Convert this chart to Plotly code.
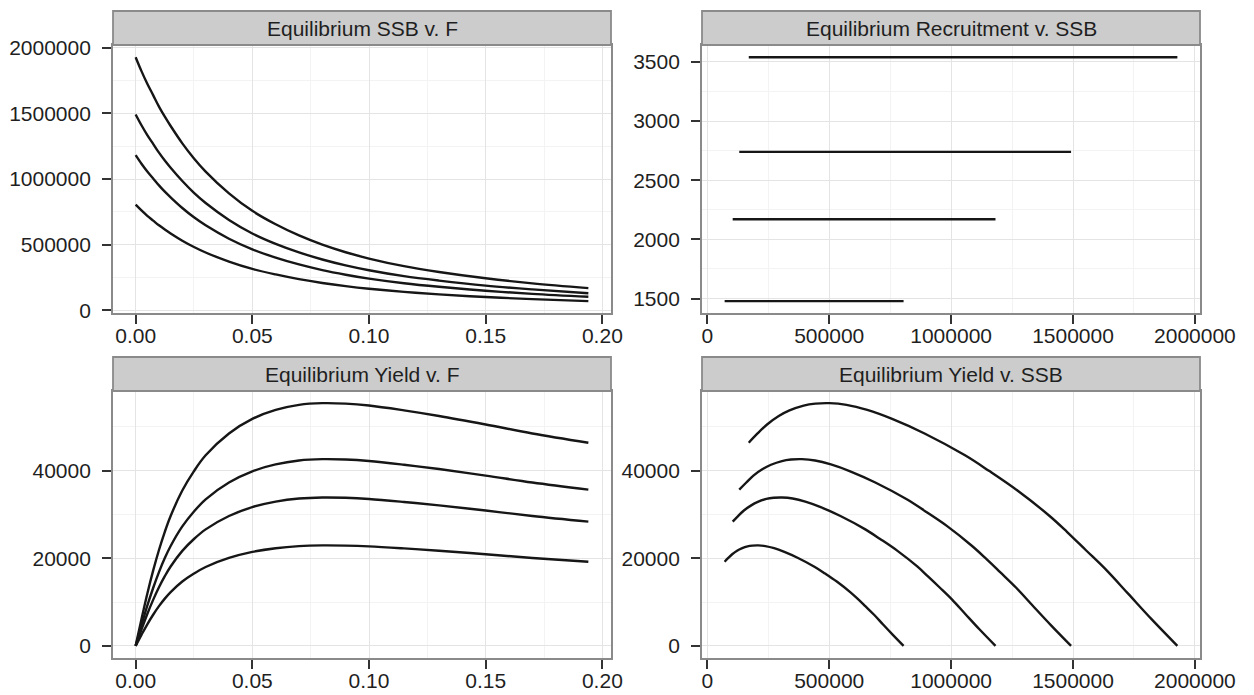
import plotly.graph_objects as go

# ---------------- data ----------------
F = [0, 0.0025, 0.005, 0.0075, 0.01, 0.0125, 0.015, 0.02, 0.025, 0.03, 0.04,
     0.05, 0.06, 0.07, 0.08, 0.09, 0.1, 0.115, 0.13, 0.15, 0.17, 0.194]

ssb_1 = [1928000, 1822000, 1726000, 1639000, 1552000, 1475000, 1404000, 1272000,
         1157000, 1057000, 891000, 758000, 656000, 571000, 501000, 443000, 395000,
         337000, 293000, 245000, 206000, 170000]
ssb_2 = [1492000, 1410000, 1335000, 1268000, 1201000, 1141000, 1086000, 985000,
         895000, 818000, 689000, 586000, 507000, 442000, 388000, 343000, 306000,
         261000, 227000, 189000, 160000, 131000]
ssb_3 = [1182000, 1117000, 1058000, 1005000, 952000, 904000, 861000, 780000,
         709000, 648000, 546000, 465000, 402000, 350000, 307000, 272000, 242000,
         207000, 180000, 150000, 126000, 104000]
ssb_4 = [805000, 761000, 720000, 684000, 648000, 616000, 586000, 531000,
         483000, 441000, 372000, 316000, 274000, 238000, 209000, 185000, 165000,
         141000, 122000, 102000, 86000, 71000]

yield_1 = [0, 6100, 11920, 17190, 21900, 26060, 29670, 35490, 39920, 43530, 48520,
           51850, 53900, 55060, 55450, 55340, 54900, 53790, 52510, 50570, 48520, 46410]
yield_2 = [0, 4690, 9170, 13220, 16850, 20050, 22820, 27300, 30710, 33480, 37320,
           39880, 41450, 42350, 42650, 42560, 42220, 41370, 40390, 38900, 37320, 35700]
yield_3 = [0, 3730, 7290, 10510, 13390, 15930, 18140, 21700, 24410, 26610, 29660,
           31700, 32950, 33660, 33900, 33830, 33560, 32880, 32100, 30920, 29660, 28370]
yield_4 = [0, 2520, 4930, 7110, 9070, 10790, 12280, 14690, 16520, 18020, 20080,
           21460, 22310, 22790, 22950, 22900, 22720, 22260, 21730, 20930, 20080, 19210]

recruitment = [3540, 2740, 2170, 1478]

ssb_all = [ssb_1, ssb_2, ssb_3, ssb_4]
yield_all = [yield_1, yield_2, yield_3, yield_4]

panel_titles = ["Equilibrium SSB v. F", "Equilibrium Recruitment v. SSB",
                "Equilibrium Yield v. F", "Equilibrium Yield v. SSB"]

f_ticks = [0, 0.05, 0.10, 0.15, 0.20]
ssb_ticks = [0, 500000, 1000000, 1500000, 2000000]
rec_ticks = [1500, 2000, 2500, 3000, 3500]
yield_ticks = [0, 20000, 40000]

# ---------------- figure ----------------
W, H = 1254, 695
LINE = dict(color="#161616", width=2.4)
FONT = dict(family="Liberation Sans, Arial, sans-serif", size=21, color="#1f1f1f")
BORDER = "#8a8a8a"
GRID = "#e4e4e4"
MINOR = "#f3f3f3"

fig = go.Figure()

for i in range(4):
    ssb = ssb_all[i]
    yl = yield_all[i]
    fig.add_trace(go.Scatter(x=F, y=ssb, mode="lines", line=LINE, line_shape="spline",
                             xaxis="x", yaxis="y", showlegend=False))
    fig.add_trace(go.Scatter(x=ssb, y=[recruitment[i]] * len(ssb), mode="lines", line=LINE,
                             xaxis="x2", yaxis="y2", showlegend=False))
    fig.add_trace(go.Scatter(x=F, y=yl, mode="lines", line=LINE, line_shape="spline",
                             xaxis="x3", yaxis="y3", showlegend=False))
    fig.add_trace(go.Scatter(x=ssb, y=yl, mode="lines", line=LINE, line_shape="spline",
                             xaxis="x4", yaxis="y4", showlegend=False))


def expand(lo, hi):
    d = (hi - lo) * 0.05
    return [lo - d, hi + d]


ssb_min = min(min(s) for s in ssb_all)
ssb_max = max(max(s) for s in ssb_all)
f_range = expand(min(F), max(F))
ssb_range = expand(ssb_min, ssb_max)
rec_range = expand(min(recruitment), max(recruitment))
yield_range = expand(0, max(max(y) for y in yield_all))

xL = [113 / W, 611 / W]
xR = [702 / W, 1200 / W]
yT = [1 - 313.3 / H, 1 - 45 / H]
yB = [1 - 658 / H, 1 - 391 / H]


def axis(domain, anchor, rng, ticks, fmt, minor_dtick, standoff):
    return dict(domain=domain, anchor=anchor, range=rng, tickmode="array",
                tickvals=ticks, tickformat=fmt, showline=True, mirror=True,
                linecolor=BORDER, linewidth=1.8, ticks="outside", ticklen=9,
                tickwidth=1.8, tickcolor="#333333", showgrid=True, gridcolor=GRID,
                gridwidth=1, zeroline=False, tickfont=FONT, ticklabelstandoff=standoff,
                automargin=False,
                minor=dict(dtick=minor_dtick, tick0=0, showgrid=True, gridcolor=MINOR,
                           gridwidth=1, ticks=""),
                fixedrange=True)


XS, YS = -6, 7
fig.update_layout(
    width=W, height=H, margin=dict(l=0, r=0, t=0, b=0, autoexpand=False),
    paper_bgcolor="white", plot_bgcolor="white",
    xaxis=axis(xL, "y", f_range, f_ticks, ".2f", 0.025, XS),
    yaxis=axis(yT, "x", ssb_range, ssb_ticks, "d", 250000, YS),
    xaxis2=axis(xR, "y2", ssb_range, ssb_ticks, "d", 250000, XS),
    yaxis2=axis(yT, "x2", rec_range, rec_ticks, "d", 250, YS),
    xaxis3=axis(xL, "y3", f_range, f_ticks, ".2f", 0.025, XS),
    yaxis3=axis(yB, "x3", yield_range, yield_ticks, "d", 10000, YS),
    xaxis4=axis(xR, "y4", ssb_range, ssb_ticks, "d", 250000, XS),
    yaxis4=axis(yB, "x4", yield_range, yield_ticks, "d", 10000, YS),
)

strip_h = 34 / H
strips = [(xL, yT), (xR, yT), (xL, yB), (xR, yB)]
for title, (xd, yd) in zip(panel_titles, strips):
    fig.add_shape(type="rect", xref="paper", yref="paper",
                  x0=xd[0], x1=xd[1], y0=yd[1], y1=yd[1] + strip_h,
                  fillcolor="#cccccc", line=dict(color=BORDER, width=1.8))
    fig.add_annotation(xref="paper", yref="paper", x=(xd[0] + xd[1]) / 2,
                       y=yd[1] + strip_h / 2, text=title, showarrow=False,
                       xanchor="center", yanchor="middle", font=FONT)

fig.write_html("out.html")
